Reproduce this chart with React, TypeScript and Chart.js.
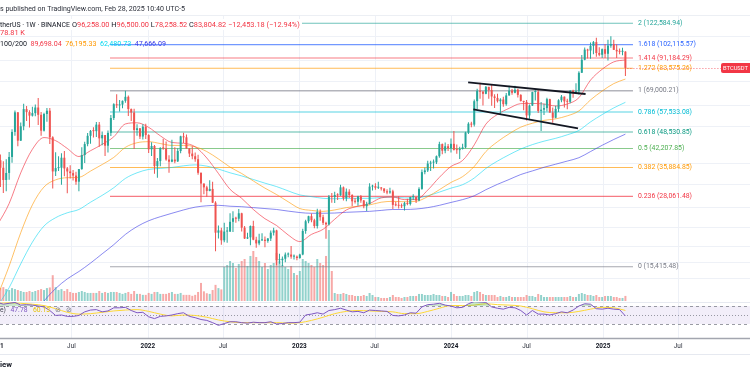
import React, { useEffect, useRef } from 'react';
import { Chart, registerables } from 'chart.js';

Chart.register(...registerables);

// ---------------- DATA (prices in thousands USDT, weekly; week 0 = 2021-01-04) ----------------
const firstOpen = 33.0;
const closes = [
  38.15, 35.8, 32.26, 34.26, 39.25, 48.58, 57.4, 45.1, 50.97, 59.0,
  57.5, 55.8, 57.0, 59.8, 56.2, 49.1, 56.6, 58.2, 46.4, 34.7,
  35.7, 35.8, 39.0, 35.6, 34.7, 34.2, 33.5, 31.8, 35.4, 39.9,
  43.8, 47.0, 49.0, 48.9, 51.7, 46.0, 47.3, 43.2, 48.2, 54.7,
  61.5, 60.9, 61.3, 63.3, 65.5, 59.0, 57.3, 49.4, 50.1, 46.7,
  50.8, 47.3, 41.9, 43.1, 36.3, 37.9, 42.4, 42.2, 38.4, 37.7,
  38.4, 37.8, 41.3, 46.8, 46.4, 42.2, 40.4, 39.5, 38.5, 34.3,
  31.3, 30.3, 29.4, 29.9, 26.6, 20.6, 21.0, 19.3, 20.8, 20.8,
  22.6, 23.3, 23.2, 24.3, 21.5, 19.6, 19.8, 21.8, 19.4, 18.8,
  19.3, 19.4, 19.2, 19.6, 20.6, 21.0, 16.3, 16.3, 16.5, 17.1,
  17.1, 16.8, 16.8, 16.6, 17.1, 20.9, 22.7, 23.7, 22.9, 21.8,
  24.6, 23.5, 22.4, 22.1, 28.0, 27.9, 28.4, 28.3, 30.3, 27.6,
  29.2, 28.4, 26.9, 26.8, 28.1, 27.1, 25.8, 26.3, 30.5, 30.6,
  30.2, 30.2, 30.0, 29.3, 29.0, 29.3, 26.1, 26.0, 25.9, 25.8,
  26.5, 26.3, 27.9, 27.9, 27.1, 29.9, 34.5, 35.0, 37.1, 37.4,
  37.5, 39.5, 43.8, 41.4, 43.0, 42.3, 43.9, 41.7, 41.6, 42.0,
  42.6, 48.3, 52.1, 51.7, 63.1, 68.9, 68.4, 67.2, 71.3, 69.4,
  65.7, 64.9, 63.1, 64.0, 61.5, 66.3, 69.0, 67.8, 69.6, 66.6,
  63.2, 62.7, 55.9, 60.8, 68.2, 68.2, 58.1, 58.7, 59.5, 64.2,
  57.3, 54.8, 59.1, 63.6, 65.6, 63.0, 62.8, 69.0, 68.0, 68.7,
  80.4, 89.8, 97.9, 97.1, 101.1, 104.4, 95.1, 93.7, 98.3, 94.5,
  101.3, 102.6, 97.7, 96.5, 96.1, 96.258, 83.805,
];
const highs = [
  41.95, 40.1, 37.85, 38.5, 40.95, 49.7, 58.35, 57.5, 52.6, 61.8,
  60.6, 58.4, 60.2, 61.3, 64.85, 57.5, 57.2, 59.6, 59.6, 46.8,
  40.9, 39.5, 40.5, 41.3, 36.0, 36.6, 35.1, 34.6, 35.4, 42.6,
  44.7, 48.1, 49.4, 50.5, 52.9, 52.9, 48.8, 47.3, 49.2, 56.1,
  62.0, 67.0, 63.7, 63.5, 69.0, 66.3, 59.3, 59.2, 51.9, 50.2,
  51.9, 52.1, 47.6, 44.5, 43.5, 38.9, 42.6, 45.8, 44.8, 39.8,
  45.4, 42.6, 42.3, 47.0, 48.2, 47.5, 42.4, 43.0, 40.8, 40.0,
  34.4, 31.3, 30.7, 32.2, 31.8, 26.9, 21.9, 21.5, 22.4, 21.6,
  24.3, 24.7, 23.6, 25.2, 24.4, 21.8, 20.6, 21.9, 22.8, 19.9,
  20.4, 20.5, 19.95, 19.7, 21.0, 21.5, 21.1, 17.2, 16.8, 17.4,
  17.4, 18.4, 17.1, 16.97, 17.2, 21.3, 23.0, 23.8, 24.25, 23.2,
  25.25, 25.1, 24.0, 22.6, 28.4, 28.9, 29.2, 28.8, 31.0, 30.5,
  30.0, 29.8, 28.6, 27.7, 28.2, 28.4, 27.2, 26.8, 31.4, 31.0,
  31.4, 31.8, 30.4, 30.1, 29.8, 30.2, 29.7, 26.8, 28.1, 26.4,
  26.8, 27.5, 28.0, 28.6, 28.0, 30.3, 35.3, 35.9, 38.0, 37.98,
  38.4, 39.7, 44.7, 44.0, 44.4, 43.8, 45.9, 48.97, 43.6, 42.8,
  43.9, 48.6, 52.8, 52.99, 64.0, 70.1, 73.8, 68.9, 71.8, 71.4,
  72.8, 66.9, 67.2, 64.7, 65.5, 67.7, 71.98, 70.0, 71.99, 70.2,
  67.0, 63.4, 63.8, 61.4, 68.4, 69.4, 70.0, 62.7, 61.8, 65.0,
  64.5, 59.8, 60.65, 64.1, 66.5, 65.7, 64.5, 69.4, 69.5, 73.6,
  81.5, 93.5, 99.6, 98.7, 104.0, 105.25, 108.35, 99.9, 98.9, 102.7,
  106.4, 109.6, 106.5, 102.5, 98.8, 99.5, 96.5,
];
const lows = [
  28.1, 30.4, 28.85, 29.3, 32.3, 37.4, 47.0, 43.0, 45.0, 49.3,
  53.3, 50.4, 55.4, 55.5, 51.5, 47.0, 48.8, 53.0, 43.8, 30.0,
  33.4, 34.8, 31.0, 33.3, 28.8, 32.7, 32.1, 31.0, 29.3, 35.2,
  37.3, 43.0, 43.9, 46.3, 46.5, 42.8, 43.4, 39.6, 40.8, 46.9,
  53.8, 59.5, 57.8, 59.4, 62.3, 55.6, 53.3, 42.0, 47.0, 45.7,
  45.5, 45.7, 40.6, 39.6, 34.0, 32.9, 36.3, 41.7, 38.0, 34.3,
  37.5, 37.2, 37.6, 40.5, 44.2, 42.1, 39.2, 38.5, 37.7, 33.7,
  26.7, 28.6, 28.0, 29.3, 26.5, 17.6, 19.6, 18.6, 19.0, 18.9,
  20.7, 20.7, 22.4, 22.7, 20.8, 19.5, 19.5, 18.5, 19.3, 18.1,
  18.5, 19.2, 18.2, 18.9, 19.2, 20.1, 15.6, 15.8, 15.5, 16.0,
  16.7, 16.5, 16.4, 16.3, 16.5, 17.0, 20.4, 22.3, 22.5, 21.4,
  21.35, 22.8, 21.97, 19.55, 21.9, 26.6, 26.5, 27.2, 28.2, 27.1,
  26.9, 27.7, 25.8, 26.4, 25.9, 26.6, 25.35, 24.8, 26.2, 29.5,
  29.7, 29.9, 29.5, 28.9, 28.6, 28.7, 25.2, 25.8, 25.3, 25.4,
  24.9, 26.0, 25.99, 27.2, 26.5, 26.9, 29.7, 33.9, 34.5, 34.8,
  35.6, 37.0, 39.0, 40.2, 40.5, 41.3, 40.75, 41.5, 40.3, 38.55,
  41.8, 42.3, 47.7, 50.5, 50.9, 59.0, 64.5, 60.8, 66.9, 64.5,
  60.7, 59.6, 62.4, 56.55, 60.2, 60.7, 66.1, 66.6, 67.5, 65.1,
  63.0, 58.4, 53.5, 54.3, 60.6, 63.5, 57.1, 49.0, 56.1, 57.8,
  57.2, 52.5, 54.6, 57.5, 62.6, 59.8, 58.9, 62.0, 65.0, 67.5,
  66.8, 80.2, 89.4, 90.8, 90.5, 94.2, 92.2, 92.5, 91.2, 91.2,
  89.3, 99.5, 97.6, 91.2, 94.1, 93.4, 78.26,
];
// volume in thousand BTC
const volumes = [
  215, 200, 215, 185, 170, 200, 185, 170, 155, 140,
  140, 155, 140, 155, 170, 185, 170, 200, 210, 400,
  215, 170, 185, 155, 185, 140, 125, 125, 140, 155,
  140, 125, 125, 125, 125, 155, 125, 140, 125, 140,
  140, 140, 125, 110, 125, 140, 110, 155, 110, 110,
  95, 95, 125, 110, 140, 140, 110, 110, 110, 125,
  140, 110, 110, 125, 95, 95, 95, 80, 95, 140,
  280, 150, 120, 110, 170, 250, 200, 180, 527, 558,
  620, 589, 512, 574, 620, 651, 543, 698, 775, 682,
  620, 527, 589, 496, 558, 589, 744, 620, 558, 527,
  496, 543, 434, 403, 465, 651, 620, 589, 558, 527,
  651, 589, 558, 698, 1100, 465, 124, 109, 109, 124,
  109, 93, 93, 78, 78, 78, 93, 78, 124, 93,
  62, 62, 47, 47, 47, 62, 93, 62, 62, 47,
  62, 62, 78, 78, 78, 109, 109, 93, 93, 93,
  109, 93, 93, 78, 78, 62, 140, 109, 78, 78,
  78, 93, 93, 78, 140, 155, 140, 109, 93, 93,
  93, 93, 62, 78, 62, 62, 78, 62, 62, 62,
  62, 62, 93, 78, 78, 62, 109, 93, 62, 62,
  62, 62, 62, 62, 62, 62, 62, 78, 62, 62,
  109, 124, 109, 93, 93, 78, 93, 62, 62, 78,
  78, 78, 62, 62, 47, 47, 78.81,
];

// moving averages, sampled every 4 weeks (week 0, 4, 8 ... 216)
const maStep = 4;
const ma20 = [
  22.0, 26.4, 34.3, 41.9, 46.3, 45.1, 42.2, 39.4, 41.4, 43.7,
  46.6, 52.0, 52.5, 50.5, 47.0, 44.4, 44.1, 42.8, 38.9, 34.1,
  29.8, 27.6, 25.1, 23.2, 21.9, 20.2, 19.1, 20.3, 21.2, 23.1,
  25.0, 25.8, 26.4, 27.7, 27.9, 27.3, 27.3, 29.6, 33.0, 36.2,
  38.1, 43.5, 51.9, 56.4, 59.4, 61.8, 61.9, 61.6, 60.6, 61.6,
  65.0, 75.5, 82.8, 88.2, 89.7,
];
const ma50 = [
  12.0, 15.5, 20.6, 26.1, 30.4, 32.3, 32.9, 33.0, 34.8, 36.8,
  39.1, 42.6, 44.3, 44.7, 44.0, 43.3, 43.3, 42.8, 41.1, 38.6,
  36.0, 34.1, 32.0, 30.1, 28.5, 26.8, 25.3, 24.9, 24.7, 25.0,
  25.5, 25.8, 26.1, 26.7, 26.9, 26.8, 26.9, 28.0, 29.7, 31.6,
  33.2, 36.2, 41.1, 44.7, 47.8, 50.6, 52.3, 53.6, 54.3, 55.7,
  58.1, 63.8, 68.8, 73.3, 76.2,
];
const ma100 = [
  11.0, 12.9, 15.8, 19.0, 21.8, 23.4, 24.4, 25.1, 26.7, 28.3,
  30.2, 32.7, 34.3, 35.3, 35.6, 35.9, 36.4, 36.7, 36.3, 35.4,
  34.3, 33.4, 32.4, 31.4, 30.5, 29.4, 28.4, 28.0, 27.6, 27.5,
  27.6, 27.6, 27.6, 27.8, 27.9, 27.7, 27.7, 28.2, 29.1, 30.1,
  31.0, 32.8, 35.6, 37.9, 40.0, 42.0, 43.6, 44.9, 46.0, 47.4,
  49.2, 52.9, 56.3, 59.6, 62.5,
];
const ma200 = [
  6.3, 7.5, 8.5, 10.0, 11.5, 12.8, 13.9, 14.8, 15.9, 17.2,
  18.6, 20.3, 21.7, 22.8, 23.6, 24.3, 25.0, 25.6, 25.9, 26.0,
  25.8, 25.7, 25.5, 25.3, 25.1, 24.75, 24.45, 24.3, 24.3, 24.35,
  24.5, 24.6, 24.7, 24.9, 25.1, 25.1, 25.2, 25.5, 26.0, 26.65,
  27.3, 28.2, 29.7, 31.1, 32.4, 33.8, 34.85, 35.95, 36.9, 37.9,
  39.0, 41.1, 43.35, 45.55, 47.67,
];

// RSI sampled every 2 weeks, RSI-MA every 4 weeks
const rsiStep = 2;
const rsi = [
  78, 74, 76, 78, 72, 73, 72, 70, 68, 60,
  49, 50, 47, 47, 49, 57, 61, 62, 57, 59,
  66, 66, 67, 60, 55, 56, 46, 42, 47, 48,
  50, 53, 55, 47, 44, 40, 38, 33, 27, 31,
  35, 35, 33, 32, 34, 33, 33, 35, 30, 31,
  33, 33, 34, 50, 52, 55, 52, 60, 62, 65,
  61, 57, 58, 55, 61, 60, 59, 58, 49, 48,
  50, 55, 54, 68, 73, 74, 76, 72, 70, 66,
  67, 75, 80, 79, 78, 68, 65, 63, 67, 66,
  60, 50, 60, 52, 52, 50, 53, 57, 55, 61,
  70, 75, 74, 64, 63, 65, 63, 62, 47.78,
];
const rsiMaStep = 4;
const rsiMa = [
  76, 77, 76, 74, 71, 64, 56, 52, 53, 56,
  59, 61, 62, 58, 52, 48, 50, 49, 45, 39,
  35, 33, 33, 33, 33, 32, 33, 38, 45, 53,
  58, 60, 59, 58, 57, 53, 53, 58, 65, 71,
  71, 72, 75, 73, 72, 70, 64, 57, 55, 55,
  58, 63, 67, 66, 60.13,
];
const rsiLevels = [70, 50, 30];

// Fibonacci retracement
const fibRatios = ['2', '1.618', '1.414', '1.272', '1', '0.786', '0.618', '0.5', '0.382', '0.236', '0'];
const fibPrices = [122584.94, 102115.57, 91184.29, 83575.26, 69000.21, 57533.08, 48530.85, 42207.85, 35884.85, 28061.48, 15415.48];
const fibColors = ['#26a69a', '#2962ff', '#f23645', '#ff9800', '#787b86', '#00bcd4', '#089981', '#4caf50', '#ff9800', '#f23645', '#787b86'];
const fibFromWeek = 38.7;
const fibToWeek = 218.6;

// drawn channel (week, price K)
const trendUpper = [[161.9, 74.1], [202.3, 67.1]];
const trendLower = [[163.7, 58.9], [199.7, 50.1]];

// time axis
const tickWeeks = [-0.43, 25.43, 51.71, 77.57, 103.86, 129.71, 156, 182, 208.29, 234.14];
const tickLabels = ['2021', 'Jul', '2022', 'Jul', '2023', 'Jul', '2024', 'Jul', '2025', 'Jul'];
const gridPrices = [110, 90, 75, 61, 51, 37.3, 31.2, 25.6, 21.6, 18.4, 16.05, 14.0];

// header texts
const headerTop = 's published on TradingView.com, Feb 28, 2025 10:40 UTC-5';
const symbolText = 'therUS · 1W · BINANCE';
const ohlcLetters = ['O', 'H', 'L', 'C'];
const ohlcValues = ['96,258.00', '96,500.00', '78,258.52', '83,804.82'];
const changeText = '−12,453.18 (−12.94%)';
const volText = '78.81 K';
const maTitle = '100/200';
const maValues = ['89,698.04', '76,195.33', '62,480.73', '47,666.09'];
const rsiTitle = 'e)';
const rsiValues = ['47.78', '60.13'];

// ---------------- layout constants ----------------
const W = 750;
const H = 375;
const AREA_TOP = 16;
const AREA_BOTTOM = 338;
const MAIN_BOTTOM = 301;
const RSI_TOP = 302;
const weekMin = 0.86;
const weekMax = 258.86;
const priceMin = 8.402;
const priceMax = 130.35;
const volMin = -573.5;
const volMax = 4417.5;
const rsiMin = -1.1;
const rsiMax = 714.4;

const UP = '#26a69a';
const DOWN = '#ef5350';
const FONT = 'Roboto, "Noto Sans", sans-serif';
const maColors = ['rgba(242,54,69,0.65)', 'rgba(255,152,0,0.6)', 'rgba(0,214,240,0.55)', 'rgba(60,60,230,0.6)'];
const maTextColors = ['#f23645', '#ff9800', '#00d8f0', '#3c3ce6'];

function setFont(ctx: CanvasRenderingContext2D, size: number, bold = false) {
  ctx.font = `${bold ? 'bold ' : ''}${size.toFixed(2)}px ${FONT}`;
}
function fitSize(ctx: CanvasRenderingContext2D, text: string, width: number, bold = false) {
  setFont(ctx, 10, bold);
  return (10 * width) / ctx.measureText(text).width;
}
function drawRun(ctx: CanvasRenderingContext2D, x: number, y: number, parts: [string, string][]) {
  let cx = x;
  for (const [t, c] of parts) {
    ctx.fillStyle = c;
    ctx.fillText(t, cx, y);
    cx += ctx.measureText(t).width;
  }
  return cx;
}

export default function App() {
  const ref = useRef<HTMLCanvasElement>(null);

  useEffect(() => {
    const canvas = ref.current;
    if (!canvas) return;

    const weeks = closes.map((_, i) => i);
    const opens = closes.map((_, i) => (i === 0 ? firstOpen : closes[i - 1]));
    const isUp = closes.map((c, i) => c >= opens[i]);
    const lastIdx = closes.length - 1;

    const mainClip = { left: 0, top: 0, right: 0, bottom: MAIN_BOTTOM - AREA_BOTTOM };
    const rsiClip = { left: 0, top: AREA_TOP - RSI_TOP, right: 0, bottom: 0 };

    const lineBase = {
      type: 'line' as const,
      pointRadius: 0,
      borderWidth: 1,
      fill: false,
      parsing: false as const,
    };

    const maSeries = [ma20, ma50, ma100, ma200].map((arr, k) => ({
      ...lineBase,
      yAxisID: 'y',
      data: arr.map((v, j) => ({ x: j * maStep, y: v })),
      borderColor: maColors[k],
      cubicInterpolationMode: 'monotone' as const,
      order: 12,
      clip: mainClip,
    }));

    const fibSeries = fibPrices.map((p, k) => ({
      ...lineBase,
      yAxisID: 'y',
      data: [
        { x: fibFromWeek, y: p / 1000 },
        { x: fibToWeek, y: p / 1000 },
      ],
      borderColor: fibColors[k] + (k === 4 ? '90' : 'a8'),
      borderWidth: k === 4 ? 1.5 : 1.1,
      order: 15,
    }));

    const trendSeries = [trendUpper, trendLower].map((pts) => ({
      ...lineBase,
      yAxisID: 'y',
      data: pts.map(([x, y]) => ({ x, y })),
      borderColor: '#131722',
      borderWidth: 1.8,
      order: 2,
    }));

    const plugin = {
      id: 'tvDecor',
      beforeDatasetsDraw(chart: any) {
        const { ctx, chartArea: a, scales } = chart;
        const xs = scales.x, ys = scales.y, yr = scales.yR;
        ctx.save();
        ctx.strokeStyle = '#eef1f7';
        ctx.lineWidth = 1;
        tickWeeks.forEach((w) => {
          const px = Math.round(xs.getPixelForValue(w)) + 0.5;
          ctx.beginPath();
          ctx.moveTo(px, a.top);
          ctx.lineTo(px, a.bottom);
          ctx.stroke();
        });
        gridPrices.forEach((p) => {
          const py = Math.round(ys.getPixelForValue(p)) + 0.5;
          if (py > MAIN_BOTTOM) return;
          ctx.beginPath();
          ctx.moveTo(a.left, py);
          ctx.lineTo(a.right, py);
          ctx.stroke();
        });
        ctx.strokeStyle = '#eceff4';
        ctx.beginPath();
        ctx.moveTo(0, a.top - 0.5);
        ctx.lineTo(W, a.top - 0.5);
        ctx.stroke();
        ctx.strokeStyle = '#e6e9f0';
        ctx.beginPath();
        ctx.moveTo(0, RSI_TOP + 0.5);
        ctx.lineTo(W, RSI_TOP + 0.5);
        ctx.stroke();
        const yTop = yr.getPixelForValue(rsiLevels[0]);
        const yBot = yr.getPixelForValue(rsiLevels[2]);
        ctx.fillStyle = 'rgba(126,87,194,0.1)';
        ctx.fillRect(a.left, yTop, a.width, yBot - yTop);
        ctx.strokeStyle = 'rgba(120,123,134,0.75)';
        ctx.lineWidth = 1;
        rsiLevels.forEach((lv, k) => {
          const py = Math.round(yr.getPixelForValue(lv)) + 0.5;
          ctx.setLineDash(k === 1 ? [1, 2] : [3, 3]);
          ctx.beginPath();
          ctx.moveTo(a.left, py);
          ctx.lineTo(a.right, py);
          ctx.stroke();
        });
        ctx.setLineDash([]);
        ctx.restore();
      },
      afterDatasetsDraw(chart: any) {
        const { ctx, scales } = chart;
        const xs = scales.x, ys = scales.y;
        ctx.save();
        ctx.textBaseline = 'middle';

        const lx = xs.getPixelForValue(fibToWeek) + 5;
        const fsz = fitSize(ctx, '1.618 (102,115.57)', 58);
        setFont(ctx, fsz);
        fibPrices.forEach((p, k) => {
          const py = ys.getPixelForValue(p / 1000);
          ctx.fillStyle = fibColors[k];
          const txt = `${fibRatios[k]} (${p.toLocaleString('en-US', { minimumFractionDigits: 2, maximumFractionDigits: 2 })})`;
          ctx.fillText(txt, lx, py);
        });

        const cy = ys.getPixelForValue(closes[lastIdx]);
        const cx0 = xs.getPixelForValue(lastIdx) + 2;
        ctx.strokeStyle = 'rgba(242,54,69,0.7)';
        ctx.lineWidth = 1;
        ctx.setLineDash([1, 2]);
        ctx.beginPath();
        ctx.moveTo(cx0, Math.round(cy) + 0.5);
        ctx.lineTo(721, Math.round(cy) + 0.5);
        ctx.stroke();
        ctx.setLineDash([]);
        ctx.fillStyle = '#f23645';
        ctx.beginPath();
        (ctx as any).roundRect ? (ctx as any).roundRect(721, cy - 5, 34, 10, 2) : ctx.rect(721, cy - 5, 34, 10);
        ctx.fill();
        ctx.fillStyle = '#ffffff';
        setFont(ctx, fitSize(ctx, 'BTCUSDT', 25));
        ctx.fillText('BTCUSDT', 723, cy + 0.3);

        const ry = 310;
        setFont(ctx, fitSize(ctx, '47.78', 17));
        ctx.fillStyle = '#434651';
        ctx.fillText(rsiTitle, 0, ry);
        ctx.fillStyle = '#7e57c2';
        ctx.fillText(rsiValues[0], 10.5, ry);
        ctx.fillStyle = '#e6c300';
        ctx.fillText(rsiValues[1], 33, ry);
        ctx.fillStyle = '#787b86';
        ctx.fillText('⊘', 55, ry);
        ctx.fillText('⊘', 66, ry);
        ctx.restore();
      },
      afterDraw(chart: any) {
        const { ctx, scales } = chart;
        const xs = scales.x;
        ctx.save();
        ctx.textBaseline = 'middle';

        ctx.strokeStyle = '#a3a6af';
        ctx.lineWidth = 1.5;
        ctx.beginPath();
        ctx.moveTo(0, AREA_BOTTOM + 0.5);
        ctx.lineTo(W, AREA_BOTTOM + 0.5);
        ctx.stroke();
        ctx.strokeStyle = '#e6e9f0';
        ctx.lineWidth = 1;
        ctx.beginPath();
        ctx.moveTo(0, 354.5);
        ctx.lineTo(W, 354.5);
        ctx.stroke();

        const ysz = fitSize(ctx, '2022', 14.7, true);
        ctx.textAlign = 'center';
        tickLabels.forEach((t, k) => {
          const px = xs.getPixelForValue(tickWeeks[k]);
          const major = t !== 'Jul';
          setFont(ctx, ysz, major);
          ctx.fillStyle = major ? '#131722' : '#2a2e39';
          ctx.fillText(t, px, 346.5);
        });

        ctx.textAlign = 'right';
        setFont(ctx, fitSize(ctx, 'iew', 12, true), true);
        ctx.fillStyle = '#131722';
        ctx.fillText('TradingView', 12, 365);

        ctx.textAlign = 'left';
        setFont(ctx, fitSize(ctx, headerTop, 185));
        ctx.fillStyle = '#2a2e39';
        ctx.fillText(headerTop, 0, 9);

        ctx.fillStyle = '#ffffff';
        ctx.fillRect(0, 19, 302, 11);
        setFont(ctx, fitSize(ctx, symbolText, 70));
        ctx.fillStyle = '#131722';
        ctx.fillText(symbolText, 0, 25);
        const ohlcFull = ohlcLetters.map((l, k) => l + ohlcValues[k]).join(' ') + ' ' + changeText;
        setFont(ctx, fitSize(ctx, ohlcFull, 228));
        const parts: [string, string][] = [];
        ohlcLetters.forEach((l, k) => {
          parts.push([l, '#131722']);
          parts.push([ohlcValues[k] + ' ', '#f23645']);
        });
        parts.push([changeText, '#f23645']);
        drawRun(ctx, 72, 25, parts);

        ctx.fillStyle = '#f23645';
        ctx.fillText(volText, 0, 33.5);

        // MA legend: one font for the whole row
        const maRow = maTitle + '  ' + maValues.join('  ');
        setFont(ctx, fitSize(ctx, maRow, 166));
        const mparts: [string, string][] = [[maTitle + '  ', '#131722']];
        maValues.forEach((v, k) => mparts.push([v + (k < maValues.length - 1 ? '  ' : ''), maTextColors[k]]));
        drawRun(ctx, 0, 44, mparts);
        ctx.restore();
      },
    };

    const chart = new Chart(canvas, {
      type: 'bar',
      data: {
        datasets: [
          {
            type: 'bar',
            yAxisID: 'yV',
            data: weeks.map((i) => ({ x: i, y: volumes[i] })),
            backgroundColor: weeks.map((i) => (isUp[i] ? 'rgba(38,166,154,0.5)' : 'rgba(239,83,80,0.5)')),
            barThickness: 2,
            grouped: false,
            inflateAmount: 0,
            order: 20,
            clip: mainClip,
          } as any,
          ...fibSeries,
          ...maSeries,
          {
            type: 'bar',
            yAxisID: 'y',
            data: weeks.map((i) => ({ x: i, y: [lows[i], highs[i]] })),
            backgroundColor: weeks.map((i) => (isUp[i] ? UP : DOWN)),
            barThickness: 1,
            grouped: false,
            inflateAmount: 0,
            order: 9,
          } as any,
          {
            type: 'bar',
            yAxisID: 'y',
            data: weeks.map((i) => ({
              x: i,
              y: [Math.min(opens[i], closes[i]), Math.max(opens[i], closes[i])],
            })),
            backgroundColor: weeks.map((i) => (isUp[i] ? UP : DOWN)),
            barThickness: 2,
            minBarLength: 1,
            grouped: false,
            inflateAmount: 0,
            order: 8,
          } as any,
          ...trendSeries,
          {
            ...lineBase,
            yAxisID: 'yR',
            data: rsi.map((v, j) => ({ x: j * rsiStep, y: v })),
            borderColor: '#7e57c2',
            fill: { target: { value: 70 }, above: 'rgba(76,175,80,0.3)', below: 'rgba(0,0,0,0)' },
            order: 3,
            clip: rsiClip,
          } as any,
          {
            ...lineBase,
            yAxisID: 'yR',
            data: rsiMa.map((v, j) => ({ x: j * rsiMaStep, y: v })),
            borderColor: '#fdd835',
            cubicInterpolationMode: 'monotone',
            order: 4,
            clip: rsiClip,
          } as any,
        ],
      },
      options: {
        responsive: false,
        animation: false,
        devicePixelRatio: 1,
        events: [],
        layout: { padding: { top: AREA_TOP, bottom: H - AREA_BOTTOM, left: 0, right: 0 } },
        plugins: { legend: { display: false }, tooltip: { enabled: false }, title: { display: false } },
        scales: {
          x: { type: 'linear', display: false, min: weekMin, max: weekMax, offset: false, bounds: 'data' },
          y: { type: 'logarithmic', display: false, min: priceMin, max: priceMax, bounds: 'data' },
          yV: { type: 'linear', display: false, min: volMin, max: volMax, bounds: 'data' },
          yR: { type: 'linear', display: false, min: rsiMin, max: rsiMax, bounds: 'data' },
        },
      } as any,
      plugins: [plugin],
    });

    return () => chart.destroy();
  }, []);

  return (
    <div style={{ position: 'fixed', left: 0, top: 0, width: W, height: H, background: '#ffffff' }}>
      <canvas ref={ref} width={W} height={H} style={{ display: 'block', width: W, height: H }} />
    </div>
  );
}
